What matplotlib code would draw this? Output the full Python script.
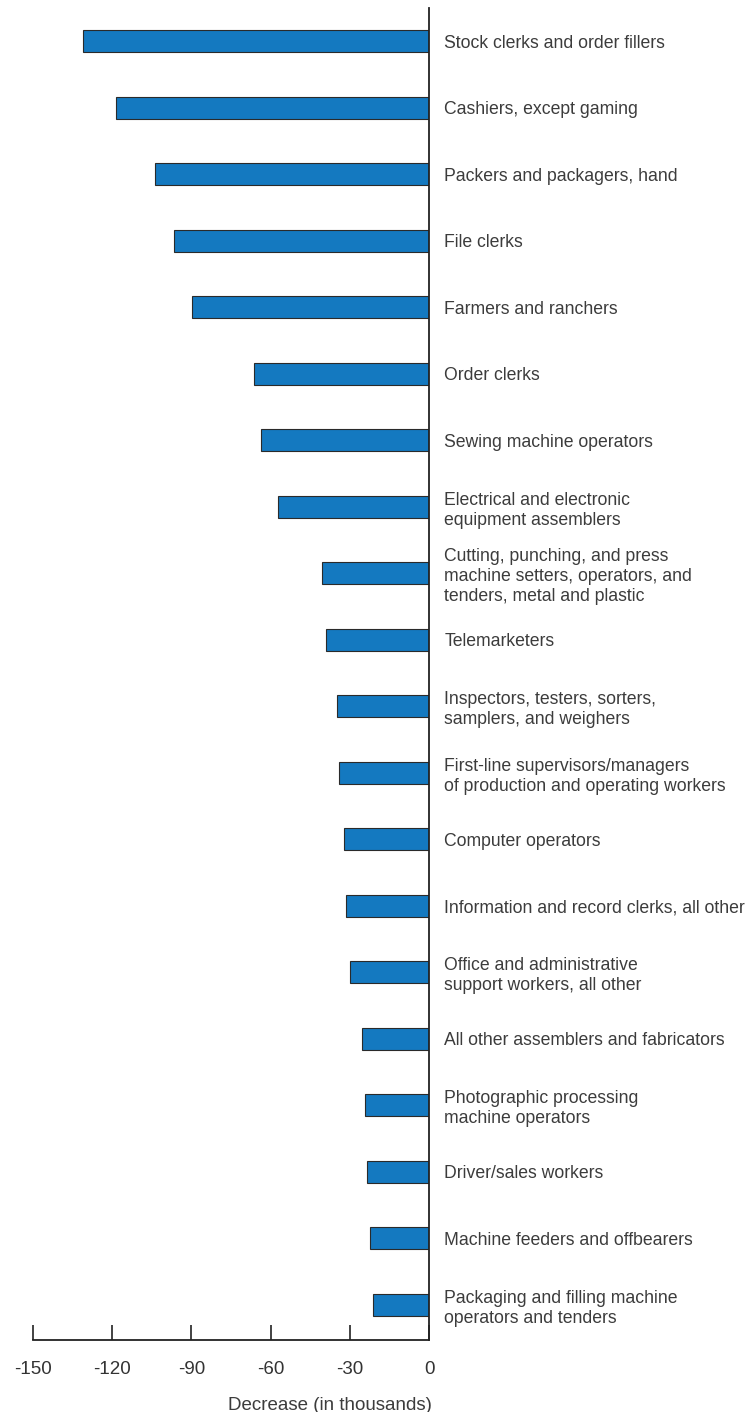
import matplotlib.pyplot as plt

# occupations, top to bottom
occupations = [
    "Stock clerks and order fillers",
    "Cashiers, except gaming",
    "Packers and packagers, hand",
    "File clerks",
    "Farmers and ranchers",
    "Order clerks",
    "Sewing machine operators",
    "Electrical and electronic\nequipment assemblers",
    "Cutting, punching, and press\nmachine setters, operators, and\ntenders, metal and plastic",
    "Telemarketers",
    "Inspectors, testers, sorters,\nsamplers, and weighers",
    "First-line supervisors/managers\nof production and operating workers",
    "Computer operators",
    "Information and record clerks, all other",
    "Office and administrative\nsupport workers, all other",
    "All other assemblers and fabricators",
    "Photographic processing\nmachine operators",
    "Driver/sales workers",
    "Machine feeders and offbearers",
    "Packaging and filling machine\noperators and tenders",
]

# decrease in thousands
decrease = [-131, -118.7, -103.7, -96.6, -89.8, -66.3, -63.6, -57.3, -40.4, -39.0,
            -34.8, -34.1, -32.3, -31.6, -29.9, -25.3, -24.4, -23.6, -22.3, -21.2]

xticks = [-150, -120, -90, -60, -30, 0]

plt.rcParams['font.family'] = ['Liberation Sans', 'DejaVu Sans']

fig = plt.figure(figsize=(7.51, 14.12), dpi=100)
ax = fig.add_axes([33 / 751, 1 - 1340 / 1412, 396 / 751, 1332 / 1412])

pos = list(range(len(occupations)))
ax.barh(pos, decrease, height=0.33, color='#1479c0', edgecolor='#2a2a2a', linewidth=0.8)

ax.set_xlim(-150, 0)
ax.set_ylim(len(occupations) - 0.47, -0.5)

ax.spines['left'].set_visible(False)
ax.spines['top'].set_visible(False)
ax.spines['right'].set_color('#222222')
ax.spines['bottom'].set_color('#222222')
ax.spines['right'].set_linewidth(1.3)
ax.spines['bottom'].set_linewidth(1.3)

ax.yaxis.tick_right()
ax.set_yticks(pos)
ax.set_yticklabels(occupations, fontsize=12.7, color='#3c3c3c', linespacing=1.22)
ax.tick_params(axis='y', length=0, pad=11)
for lbl in ax.get_yticklabels():
    lbl.set_horizontalalignment('left')

ax.set_xticks(xticks)
ax.set_xticklabels([str(t) for t in xticks], fontsize=13.5, color='#333333')
ax.tick_params(axis='x', direction='in', length=11, width=1.2, color='#222222', pad=15)

ax.set_xlabel("Decrease (in thousands)", fontsize=13.5, color='#3c3c3c')
ax.xaxis.set_label_coords(0.75, -0.043)

fig.savefig("out.png", dpi=100)
